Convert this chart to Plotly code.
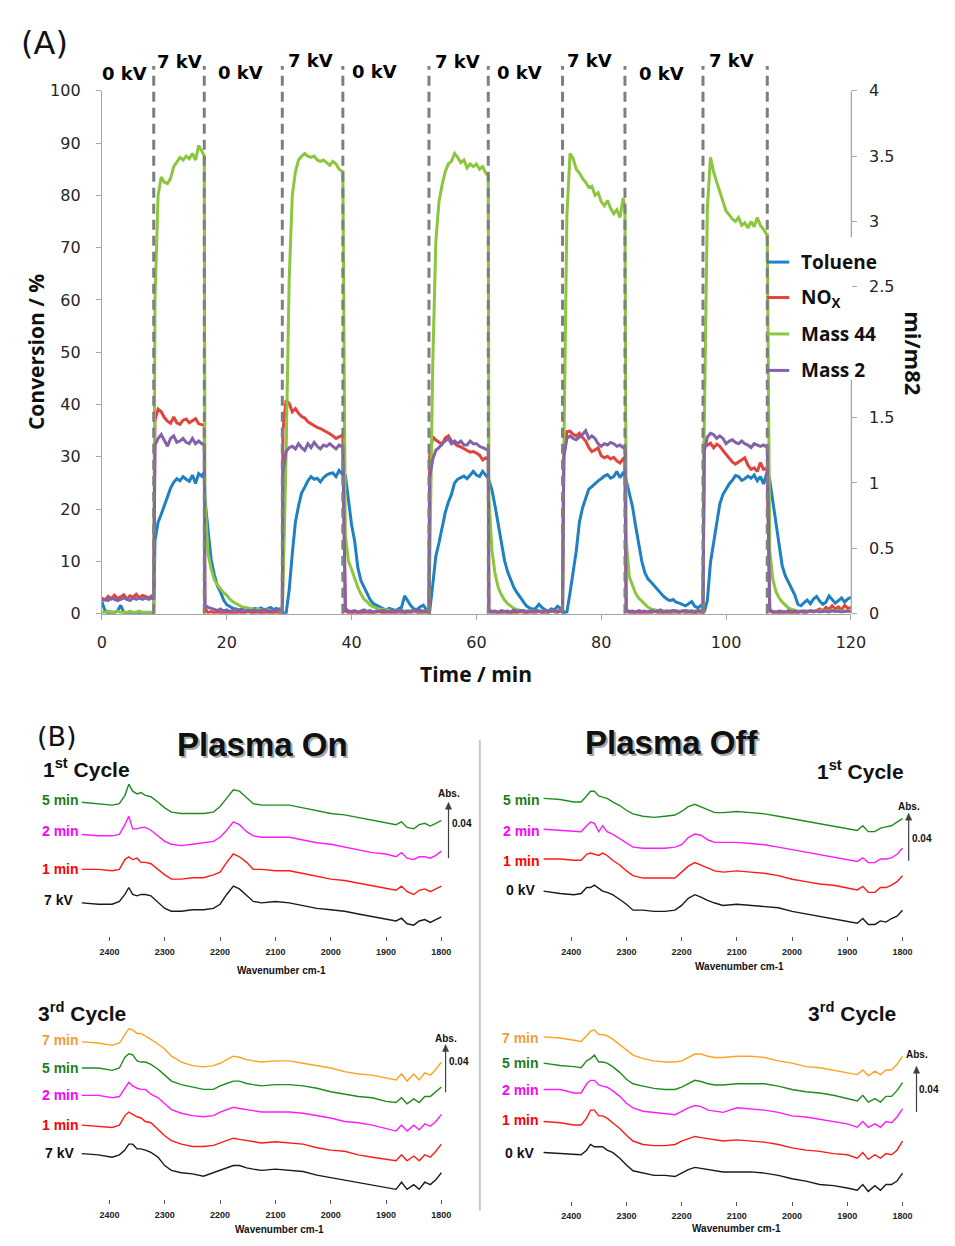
import plotly.graph_objects as go

FIG_W, FIG_H = 955, 1246


def fx(p):
    return p / FIG_W


def fy(p):
    return 1 - p / FIG_H


# ---------------------------------------------------------------- Panel A data
# sampling grid: every 0.5 min plus the instants where the voltage was switched
half_minute_grid = [i * 0.5 for i in range(241)]
switch_times = [8.3, 16.4, 28.9, 38.6, 52.4, 61.9, 73.8, 83.8, 96.3, 106.6]
voltage_labels = ["0 kV", "7 kV", "0 kV", "7 kV", "0 kV", "7 kV", "0 kV", "7 kV", "0 kV", "7 kV"]
time_min = sorted(half_minute_grid + switch_times)

x_ticks = [0, 20, 40, 60, 80, 100, 120]
left_ticks = [0, 10, 20, 30, 40, 50, 60, 70, 80, 90, 100]
right_ticks = [0, 0.5, 1, 1.5, 2.5, 3, 3.5, 4]
right_tick_text = ["0", "0.5", "1", "1.5", "2.5", "3", "3.5", "4"]

toluene = [
    2.2, 0.6, 0.1, 0.3, 0.2, 0.5, 1.6, 0.3, 0.1, 0.2, 0.0, 0.3, 0.1, 0.2, 0.0, 0.1, 0.2,
    0.2,
    14.0, 17.5, 19.0, 20.8, 22.2, 24.0, 25.1, 25.8, 25.4, 26.2, 25.7, 25.3, 26.5, 24.9, 26.8, 26.3,
    27.1,
    22.0, 16.0, 10.3, 7.5, 5.3, 4.1, 2.6, 1.7, 1.3, 1.0, 0.9, 0.7, 0.9, 1.1, 0.8, 0.7, 1.0, 0.8, 1.1, 0.7,
    0.9, 1.2, 0.8, 1.0, 0.6,
    0.3,
    0.2, 0.0, 4.5, 11.5, 17.5, 20.6, 23.1, 24.2, 25.4, 26.2, 25.7, 25.9, 25.2, 26.0, 26.5, 26.8, 26.9, 26.2,
    27.4, 26.7,
    27.0,
    26.5, 22.0, 17.0, 13.8, 8.8, 6.3, 5.0, 3.8, 2.6, 1.9, 1.6, 1.2, 1.0, 0.7, 1.0, 0.8, 0.6, 0.9, 1.2, 3.4,
    2.4, 1.5, 0.9, 0.8, 1.3, 1.6, 0.7,
    0.5,
    0.3, 5.5, 11.0, 13.5, 16.5, 19.3, 21.3, 22.8, 25.0, 25.7, 26.0, 26.3, 25.8, 26.6, 27.2, 26.5, 26.2, 27.2,
    26.4,
    25.9,
    25.5, 23.6, 20.5, 17.1, 13.4, 10.2, 8.0, 6.3, 5.0, 4.0, 3.2, 2.3, 1.5, 1.1, 0.8, 1.0, 1.8, 1.2, 0.7, 0.5,
    0.9, 0.7, 1.4, 1.0,
    0.8,
    0.2, 0.3, 4.0, 7.8, 12.0, 17.5, 20.2, 22.0, 23.8, 24.3, 24.9, 25.4, 25.8, 26.3, 26.6, 25.9, 26.2, 27.2,
    26.0, 26.9,
    26.5,
    25.5, 23.0, 20.5, 16.8, 13.6, 10.0, 7.8, 6.6, 6.0, 5.3, 4.5, 3.9, 3.3, 2.8, 2.5, 2.7, 2.2, 2.0, 1.7, 1.5,
    1.9, 2.3, 1.4, 1.1, 1.6,
    1.2,
    0.3, 2.5, 9.8, 13.4, 17.8, 21.0, 22.8, 23.9, 24.8, 25.5, 26.4, 26.2, 25.5, 25.8, 26.3, 25.9, 26.5, 25.4,
    26.2, 24.8, 27.0,
    27.2,
    25.5, 21.5, 17.0, 13.4, 9.1, 7.2, 6.0, 4.8, 3.6, 1.8, 1.5, 2.1, 2.6, 1.9, 2.8, 3.3, 2.4, 1.8, 2.2, 3.4,
    2.6, 2.0, 2.5, 3.0, 2.2, 2.8, 3.1,
]

nox = [
    3.0, 2.6, 3.3, 2.8, 3.5, 2.9, 3.2, 3.6, 2.8, 3.4, 3.1, 3.7, 3.0, 3.5, 3.3, 3.0, 3.4,
    3.2,
    37.0, 39.1, 38.6, 37.5, 36.8, 36.4, 37.6, 36.5, 36.2, 37.0, 37.2, 36.5, 36.9, 37.3, 36.3, 36.2,
    36.0,
    1.0, 0.2, 0.4, 0.1, 0.3, 0.2, 0.1, 0.3, 0.2, 0.0, 0.2, 0.3, 0.1, 0.2, 0.4, 0.1, 0.2, 0.3, 0.1, 0.2,
    0.3, 0.1, 0.2, 0.3, 0.2,
    0.2,
    35.0, 40.8, 40.2, 38.6, 39.2, 38.3, 37.7, 37.4, 36.7, 36.3, 35.9, 35.6, 35.4, 35.1, 34.7, 34.4, 34.0, 33.5,
    33.8, 34.1,
    34.0,
    0.5, 0.2, 0.1, 0.3, 0.2, 0.0, 0.2, 0.3, 0.1, 0.2, 0.2, 0.4, 0.1, 0.2, 0.3, 0.1, 0.2, 0.3, 0.2, 0.1,
    0.3, 0.2, 0.4, 0.2, 0.1, 0.3, 0.2,
    0.2,
    30.0, 33.8, 33.2, 32.8, 32.4, 33.6, 34.0, 33.0, 32.5, 32.1, 31.9, 31.5, 31.2, 30.9, 31.0, 30.7, 30.3, 29.4,
    29.8,
    29.5,
    0.5, 0.2, 0.3, 0.1, 0.2, 0.3, 0.2, 0.1, 0.3, 0.2, 0.4, 0.2, 0.1, 0.3, 0.2, 0.2, 0.4, 0.3, 0.1, 0.2,
    0.6, 0.3, 0.2, 0.8,
    0.3,
    30.0, 34.8, 34.9, 34.3, 34.0, 34.5, 33.7, 33.0, 31.8, 31.0, 31.3, 31.7, 30.2, 29.8, 30.1, 29.6, 29.9, 29.2,
    28.8, 29.6,
    29.0,
    0.5, 0.2, 0.1, 0.3, 0.2, 0.2, 0.1, 0.3, 0.2, 0.4, 0.2, 0.1, 0.3, 0.2, 0.1, 0.3, 0.2, 0.2, 0.4, 0.1,
    0.3, 0.2, 0.1, 0.3, 0.2,
    0.2,
    33.0, 32.2, 32.6, 31.7, 32.4, 32.0, 31.2, 30.5, 29.8, 29.0, 28.6, 29.0, 29.5, 29.8, 28.4, 27.6, 27.9, 27.2,
    28.9, 27.6, 27.8,
    27.5,
    0.5, 0.2, 0.3, 0.1, 0.2, 0.3, 0.2, 0.1, 0.3, 0.2, 0.4, 0.2, 0.3, 0.5, 0.3, 0.6, 0.9, 0.5, 1.2, 0.8,
    1.5, 0.9, 1.3, 0.7, 1.6, 1.0, 1.2,
]

# mass-spec signals, in mi/m82 (right axis)
mass44 = [
    0.01, 0.01, 0.02, 0.01, 0.01, 0.02, 0.01, 0.01, 0.01, 0.02, 0.01, 0.01, 0.02, 0.01, 0.01, 0.01, 0.01,
    0.01,
    2.40, 3.20, 3.34, 3.30, 3.29, 3.33, 3.42, 3.46, 3.49, 3.47, 3.50, 3.48, 3.52, 3.47, 3.58, 3.54,
    3.50,
    0.88, 0.46, 0.34, 0.26, 0.22, 0.19, 0.16, 0.14, 0.11, 0.09, 0.08, 0.064, 0.05, 0.045, 0.04, 0.036, 0.034,
    0.032, 0.03, 0.028, 0.026, 0.024, 0.022, 0.02, 0.02,
    0.02,
    0.15, 1.20, 2.55, 3.20, 3.38, 3.47, 3.50, 3.52, 3.50, 3.49, 3.50, 3.47, 3.46, 3.47, 3.45, 3.43, 3.46, 3.44,
    3.40, 3.38,
    3.38,
    0.60, 0.40, 0.34, 0.27, 0.20, 0.15, 0.11, 0.09, 0.064, 0.052, 0.04, 0.036, 0.032, 0.028, 0.024, 0.022,
    0.02, 0.02, 0.02, 0.02, 0.02, 0.02, 0.02, 0.02, 0.02, 0.02, 0.02,
    0.02,
    0.30, 1.90, 2.85, 3.15, 3.28, 3.38, 3.44, 3.46, 3.52, 3.49, 3.45, 3.47, 3.41, 3.44, 3.42, 3.44, 3.40, 3.42,
    3.37,
    3.35,
    0.88, 0.48, 0.30, 0.20, 0.144, 0.104, 0.076, 0.056, 0.04, 0.032, 0.024, 0.02, 0.02, 0.02, 0.02, 0.02,
    0.02, 0.02, 0.02, 0.02, 0.02, 0.02, 0.02, 0.02,
    0.02,
    1.20, 3.05, 3.52, 3.48, 3.40, 3.37, 3.33, 3.30, 3.26, 3.27, 3.20, 3.22, 3.15, 3.12, 3.16, 3.10, 3.06, 3.09,
    3.03, 3.18,
    3.10,
    0.56, 0.28, 0.21, 0.156, 0.12, 0.096, 0.068, 0.048, 0.036, 0.028, 0.024, 0.02, 0.02, 0.02, 0.02, 0.02,
    0.02, 0.02, 0.02, 0.02, 0.02, 0.02, 0.02, 0.02, 0.02,
    0.02,
    1.40, 3.10, 3.49, 3.38, 3.30, 3.22, 3.16, 3.08, 3.05, 3.02, 3.00, 3.03, 2.97, 2.99, 2.95, 3.00, 2.96, 3.03,
    2.97, 2.94, 2.90,
    2.90,
    0.48, 0.26, 0.168, 0.12, 0.088, 0.064, 0.044, 0.032, 0.024, 0.02, 0.02, 0.02, 0.02, 0.02, 0.02, 0.02,
    0.02, 0.02, 0.02, 0.02, 0.02, 0.02, 0.02, 0.02, 0.02, 0.02, 0.02,
]

mass2 = [
    0.10, 0.11, 0.10, 0.12, 0.11, 0.10, 0.11, 0.12, 0.11, 0.10, 0.12, 0.11, 0.12, 0.11, 0.12, 0.11, 0.12,
    0.11,
    1.29, 1.34, 1.37, 1.32, 1.28, 1.34, 1.36, 1.31, 1.32, 1.34, 1.31, 1.30, 1.34, 1.30, 1.32, 1.30,
    1.29,
    0.064, 0.048, 0.04, 0.032, 0.024, 0.036, 0.02, 0.028, 0.016, 0.024, 0.032, 0.02, 0.028, 0.016, 0.024,
    0.02, 0.028, 0.016, 0.024, 0.032, 0.02, 0.016, 0.028, 0.02, 0.036,
    0.02,
    1.08, 1.24, 1.27, 1.28, 1.26, 1.30, 1.27, 1.25, 1.30, 1.27, 1.31, 1.28, 1.26, 1.29, 1.28, 1.30, 1.28, 1.26,
    1.29, 1.27,
    1.27,
    0.04, 0.02, 0.016, 0.024, 0.012, 0.02, 0.028, 0.016, 0.024, 0.012, 0.02, 0.016, 0.024, 0.02, 0.012,
    0.028, 0.016, 0.02, 0.024, 0.012, 0.02, 0.016, 0.028, 0.02, 0.024, 0.016, 0.02,
    0.02,
    1.04, 1.18, 1.25, 1.27, 1.30, 1.32, 1.34, 1.30, 1.32, 1.30, 1.32, 1.29, 1.29, 1.32, 1.30, 1.30, 1.28, 1.27,
    1.26,
    1.25,
    0.03, 0.016, 0.02, 0.012, 0.024, 0.016, 0.02, 0.012, 0.028, 0.016, 0.02, 0.024, 0.012, 0.02, 0.016,
    0.024, 0.02, 0.012, 0.028, 0.016, 0.02, 0.024, 0.016, 0.02,
    0.02,
    1.20, 1.34, 1.36, 1.34, 1.33, 1.35, 1.37, 1.40, 1.34, 1.36, 1.34, 1.30, 1.28, 1.30, 1.29, 1.31, 1.30, 1.28,
    1.29, 1.27,
    1.28,
    0.03, 0.016, 0.02, 0.012, 0.024, 0.016, 0.02, 0.012, 0.024, 0.016, 0.02, 0.028, 0.012, 0.02, 0.016,
    0.024, 0.02, 0.012, 0.02, 0.024, 0.016, 0.02, 0.012, 0.024, 0.02,
    0.02,
    1.24, 1.35, 1.38, 1.37, 1.34, 1.36, 1.34, 1.30, 1.32, 1.33, 1.31, 1.30, 1.32, 1.30, 1.29, 1.27, 1.30, 1.29,
    1.28, 1.29, 1.27,
    1.27,
    0.03, 0.016, 0.012, 0.02, 0.016, 0.012, 0.024, 0.016, 0.02, 0.012, 0.016, 0.02, 0.012, 0.024, 0.016,
    0.02, 0.012, 0.016, 0.02, 0.012, 0.024, 0.016, 0.02, 0.012, 0.016, 0.02, 0.016,
]

# ---------------------------------------------------------------- Panel B data
wavenumber = [2450, 2420, 2395, 2382, 2372, 2365, 2358, 2350, 2343, 2335, 2325, 2312, 2300, 2288, 2270,
              2250, 2230, 2212, 2200, 2188, 2176, 2165, 2152, 2140, 2125, 2100, 2075, 2050, 2025, 2000,
              1975, 1950, 1925, 1900, 1882, 1872, 1862, 1850, 1840, 1830, 1820, 1810, 1800]
wn_ticks = [2400, 2300, 2200, 2100, 2000, 1900, 1800]

# absorbance (mAbs, stacked as displayed)
on1_7kV = [24, 23, 23, 25, 30, 35, 30, 29, 30, 30, 29, 24, 20, 18, 18, 19, 19, 20, 23, 30, 36, 34, 29, 25, 24,
           25, 24, 22, 20, 19, 18, 16, 14, 12, 11, 13, 9, 8, 11, 12, 10, 12, 14]
on1_1min = [48, 48, 47, 48, 55, 57, 55, 56, 53, 53, 52, 48, 44, 41, 41, 42, 42, 44, 46, 53, 59, 57, 53, 48, 48,
            47, 47, 45, 43, 41, 40, 38, 36, 34, 33, 36, 32, 30, 33, 34, 32, 34, 36]
on1_2min = [73, 72, 72, 73, 80, 86, 77, 77, 78, 78, 76, 72, 68, 66, 65, 66, 67, 68, 71, 76, 82, 80, 75, 72, 71,
            71, 71, 69, 67, 66, 64, 62, 60, 59, 57, 60, 56, 55, 57, 57, 56, 58, 61]
on1_5min = [96, 95, 94, 95, 101, 109, 104, 102, 103, 101, 100, 96, 92, 89, 88, 88, 88, 89, 93, 99, 105, 104, 99,
            95, 94, 94, 94, 92, 90, 88, 87, 85, 83, 81, 80, 82, 78, 77, 80, 81, 79, 81, 83]

off1_0kV = [38, 36, 35, 36, 41, 41, 43, 40, 38, 37, 35, 31, 27, 22, 22, 21, 21, 22, 26, 32, 35, 33, 30, 28, 26,
            27, 26, 25, 24, 21, 19, 17, 15, 13, 11, 15, 10, 10, 13, 12, 15, 17, 22]
off1_1min = [65, 65, 64, 64, 69, 70, 69, 68, 70, 68, 64, 60, 55, 51, 49, 49, 49, 49, 54, 59, 62, 60, 57, 55, 54,
             55, 54, 53, 51, 48, 46, 44, 43, 41, 39, 42, 37, 37, 41, 41, 43, 46, 51]
off1_2min = [90, 89, 88, 88, 93, 96, 95, 88, 93, 88, 86, 82, 79, 75, 74, 74, 74, 75, 77, 83, 86, 85, 81, 79, 79,
             79, 78, 77, 75, 73, 71, 69, 67, 65, 63, 66, 62, 62, 65, 65, 66, 69, 74]
off1_5min = [116, 115, 113, 113, 118, 122, 122, 118, 117, 116, 113, 110, 106, 103, 101, 100, 101, 102, 105, 109,
             111, 109, 106, 104, 104, 105, 104, 103, 101, 99, 97, 95, 93, 91, 89, 93, 88, 88, 91, 92, 93, 96, 99]

on3_7kV = [38, 37, 35, 37, 41, 46, 46, 42, 42, 41, 39, 35, 28, 24, 22, 21, 19, 22, 24, 26, 28, 28, 26, 25, 24,
           25, 24, 23, 20, 18, 16, 14, 12, 10, 8, 14, 8, 12, 8, 14, 12, 16, 22]
on3_1min = [62, 61, 60, 62, 70, 73, 71, 69, 68, 65, 64, 58, 53, 49, 46, 44, 44, 45, 47, 49, 51, 50, 49, 48, 47,
            48, 47, 46, 43, 41, 40, 37, 35, 33, 32, 37, 32, 36, 32, 37, 35, 40, 46]
on3_2min = [87, 87, 85, 86, 93, 98, 95, 93, 92, 92, 88, 85, 80, 75, 72, 70, 69, 70, 73, 75, 77, 76, 75, 74, 73,
            73, 73, 72, 70, 68, 65, 64, 62, 59, 57, 62, 57, 62, 58, 63, 61, 65, 71]
on3_5min = [110, 110, 108, 110, 119, 122, 121, 116, 115, 115, 113, 109, 104, 99, 96, 94, 92, 92, 95, 97, 99, 99,
            97, 96, 95, 96, 96, 95, 93, 90, 88, 86, 85, 82, 81, 85, 80, 84, 81, 86, 86, 90, 94]
on3_7min = [132, 131, 129, 131, 138, 143, 142, 139, 139, 137, 134, 130, 126, 120, 115, 112, 111, 112, 114, 117,
            120, 119, 117, 116, 115, 116, 116, 114, 112, 110, 107, 105, 104, 102, 100, 105, 99, 105, 100, 106,
            104, 109, 115]

off3_0kV = [42, 41, 40, 40, 44, 49, 47, 47, 47, 44, 42, 37, 31, 26, 24, 22, 22, 21, 24, 27, 29, 28, 27, 26, 25,
            25, 25, 24, 22, 19, 17, 14, 13, 11, 9, 14, 8, 13, 9, 14, 14, 17, 24]
off3_1min = [69, 68, 66, 66, 72, 79, 79, 74, 74, 72, 68, 63, 57, 52, 49, 48, 48, 49, 52, 54, 56, 55, 54, 53, 52,
             53, 52, 51, 49, 46, 44, 43, 41, 40, 37, 42, 36, 40, 37, 41, 40, 44, 52]
off3_2min = [97, 97, 94, 94, 102, 105, 105, 101, 100, 99, 96, 91, 85, 81, 78, 77, 76, 75, 78, 81, 83, 82, 79, 78,
             77, 81, 80, 79, 77, 74, 73, 71, 69, 67, 64, 69, 64, 67, 64, 69, 68, 73, 80]
off3_5min = [120, 118, 117, 116, 122, 124, 127, 121, 121, 120, 117, 112, 106, 102, 100, 98, 97, 97, 99, 102, 105,
             104, 102, 101, 101, 102, 102, 102, 100, 97, 95, 94, 92, 89, 87, 92, 86, 89, 86, 91, 91, 96, 103]
off3_7min = [143, 142, 140, 139, 144, 148, 149, 145, 145, 144, 141, 136, 132, 127, 124, 122, 121, 121, 122, 125,
             128, 128, 126, 125, 125, 126, 126, 125, 122, 120, 117, 116, 114, 112, 110, 114, 109, 113, 110, 114,
             114, 119, 126]

scale_bar_abs = 0.04  # Abs

for arr in (toluene, nox, mass44, mass2):
    assert len(arr) == len(time_min), len(arr)

# ---------------------------------------------------------------- styles
C_TOL, C_NOX, C_M44, C_M2 = "#1f80c2", "#e2443c", "#8cc63e", "#8461a8"
C_BLACK, C_RED, C_MAG, C_GRN, C_ORG = "#1a1a1a", "#ff1a1a", "#ff1aff", "#1f8c1f", "#ffa21f"
L_BLACK, L_RED, L_MAG, L_GRN, L_ORG = "#111111", "#ff0000", "#ff00ff", "#1d7d1d", "#f59a3c"
AXC = "#a6a6a6"
FA = "DejaVu Sans"
FT = "Open Sans"
FB = "Liberation Sans"

fig = go.Figure()

# ---- panel A traces
fig.add_trace(go.Scatter(x=time_min, y=toluene, mode="lines", name="Toluene",
                         line=dict(color=C_TOL, width=3), xaxis="x", yaxis="y"))
fig.add_trace(go.Scatter(x=time_min, y=nox, mode="lines", name="NOx",
                         line=dict(color=C_NOX, width=3), xaxis="x", yaxis="y"))
fig.add_trace(go.Scatter(x=time_min, y=mass44, mode="lines", name="Mass 44",
                         line=dict(color=C_M44, width=3), xaxis="x", yaxis="y2"))
fig.add_trace(go.Scatter(x=time_min, y=mass2, mode="lines", name="Mass 2",
                         line=dict(color=C_M2, width=3), xaxis="x", yaxis="y2"))

# ---- panel B traces
panels = [
    ("3", [(on1_7kV, C_BLACK), (on1_1min, C_RED), (on1_2min, C_MAG), (on1_5min, C_GRN)]),
    ("4", [(off1_0kV, C_BLACK), (off1_1min, C_RED), (off1_2min, C_MAG), (off1_5min, C_GRN)]),
    ("5", [(on3_7kV, C_BLACK), (on3_1min, C_RED), (on3_2min, C_MAG), (on3_5min, C_GRN), (on3_7min, C_ORG)]),
    ("6", [(off3_0kV, C_BLACK), (off3_1min, C_RED), (off3_2min, C_MAG), (off3_5min, C_GRN), (off3_7min, C_ORG)]),
]
for k, curves in panels:
    for vals, col in curves:
        fig.add_trace(go.Scatter(x=wavenumber, y=vals, mode="lines", showlegend=False,
                                 line=dict(color=col, width=1.4), xaxis="x" + k, yaxis="y" + k))

# ---------------------------------------------------------------- axes
tick_font_a = dict(family=FA, size=16, color="#262626")
layout = dict(
    width=FIG_W, height=FIG_H, margin=dict(l=0, r=0, t=0, b=0),
    paper_bgcolor="white", plot_bgcolor="rgba(0,0,0,0)", showlegend=False,
    xaxis=dict(domain=[fx(99), fx(864)], range=[0, 120], anchor="y", tickvals=x_ticks,
               showline=True, linecolor=AXC, linewidth=1.3, ticks="outside", ticklen=5,
               tickcolor=AXC, tickfont=tick_font_a, showgrid=False, zeroline=False,
               ticklabelstandoff=9),
    yaxis=dict(domain=[fy(614), fy(83)], range=[0, 100], anchor="x", tickvals=left_ticks,
               showline=True, linecolor=AXC, linewidth=1.3, ticks="outside", ticklen=5,
               tickcolor=AXC, tickfont=tick_font_a, showgrid=False, zeroline=False,
               ticklabelstandoff=12),
    yaxis2=dict(overlaying="y", side="right", anchor="x", range=[0, 4], tickvals=right_ticks,
                ticktext=right_tick_text, showline=False, ticks="outside", ticklen=5,
                tickcolor=AXC, tickfont=tick_font_a, showgrid=False, zeroline=False,
                ticklabelstandoff=9),
)

spec_geom = {
    "3": dict(xd=[fx(67.1), fx(457.0)], yd=[fy(941.7), fy(757.4)], yr=[0, 130]),
    "4": dict(xd=[fx(538.8), fx(928.0)], yd=[fy(941.7), fy(772.6)], yr=[0, 140]),
    "5": dict(xd=[fx(67.1), fx(457.0)], yd=[fy(1208.3), fy(1015.0)], yr=[0, 160]),
    "6": dict(xd=[fx(538.8), fx(928.0)], yd=[fy(1210.0), fy(1024.0)], yr=[0, 160]),
}
for k, g in spec_geom.items():
    layout["xaxis" + k] = dict(domain=g["xd"], range=[2470, 1780], anchor="y" + k,
                               tickvals=wn_ticks, ticktext=["<b>%d</b>" % t for t in wn_ticks],
                               tickfont=dict(family=FB, size=9, color="#222"),
                               showline=False, ticks="outside", ticklen=4, tickwidth=1,
                               tickcolor="#555", showgrid=False, zeroline=False,
                               ticklabelstandoff=3)
    layout["yaxis" + k] = dict(domain=g["yd"], range=g["yr"], anchor="x" + k, visible=False)

fig.update_layout(**layout)

# ---------------------------------------------------------------- shapes
shapes = []
for t in switch_times:
    shapes.append(dict(type="line", xref="x", yref="paper", x0=t, x1=t, y0=fy(614), y1=fy(58),
                       line=dict(color="#7f7f7f", width=3, dash="10px,6px"), layer="above"))
# right axis line (interrupted behind the legend, as in the source)
for a, b in ((0, 1.79), (2.88, 4)):
    shapes.append(dict(type="line", xref="paper", yref="y2", x0=fx(864.5), x1=fx(864.5), y0=a, y1=b,
                       line=dict(color=AXC, width=1.3)))
# legend keys
legend_items = [("Toluene", C_TOL, 257), ("NO<sub>X</sub>", C_NOX, 293),
                ("Mass 44", C_M44, 330), ("Mass 2", C_M2, 367)]
for _, col, yy in legend_items:
    shapes.append(dict(type="line", xref="paper", yref="paper", x0=fx(778), x1=fx(801), y0=fy(yy), y1=fy(yy),
                       line=dict(color=col, width=3)))
# separator between plasma-on and plasma-off columns
shapes.append(dict(type="line", xref="paper", yref="paper", x0=fx(485), x1=fx(485), y0=fy(742), y1=fy(1220),
                   line=dict(color="#c8c8c8", width=2)))

# scale bars: 0.04 Abs (= 40 mAbs) measured on each panel's own y scale
bars = [("3", 453, 56, 797, 467, 827), ("4", 923, 63.5, 810, 937, 842),
        ("5", 450, 89.7, 1045, 464, 1069), ("6", 931, 77.3, 1062, 944, 1097)]
for k, bx, base, abs_y, lx, ly in bars:
    g = spec_geom[k]
    per_px = (g["yr"][1] - g["yr"][0]) / ((g["yd"][1] - g["yd"][0]) * FIG_H)
    top = base + scale_bar_abs * 1000
    head = 7 * per_px
    hw = 3.2 / FIG_W
    shapes.append(dict(type="line", xref="paper", yref="y" + k, x0=fx(bx), x1=fx(bx), y0=base, y1=top - head * 0.6,
                       line=dict(color="#404040", width=1.2)))
    shapes.append(dict(type="path", xref="paper", yref="y" + k,
                       path="M %f,%f L %f,%f L %f,%f Z" % (fx(bx) - hw, top - head, fx(bx), top, fx(bx) + hw, top - head),
                       fillcolor="#404040", line=dict(color="#404040", width=0.5)))
fig.update_layout(shapes=shapes)

# ---------------------------------------------------------------- annotations
anns = []


def text(t, x, y, size, color="#000", family=FB, xanchor="center", yanchor="middle", angle=0, **kw):
    d = dict(text=t, x=fx(x), y=fy(y), xref="paper", yref="paper", showarrow=False,
             font=dict(family=family, size=size, color=color), xanchor=xanchor, yanchor=yanchor,
             textangle=angle)
    d.update(kw)
    anns.append(d)


# panel A
text("(A)", 40, 35, 32, "#111", FA)
label_px = [(122, 65), (178, 53), (241, 64), (312, 52), (377, 63), (462, 53), (526, 64), (597, 52),
            (671, 65), (742, 52)]
for lab, (x, y) in zip(voltage_labels, label_px):
    text("<b>%s</b>" % lab, x, y, 18, "#000", FA)
text("<b>Conversion / %</b>", 31, 348, 21, "#111", FT, angle=-90)
text("<b>Time / min</b>", 481, 675, 21, "#111", FT)
text("<b>mi/m82</b>", 929, 349, 22, "#111", FT, angle=90)
for name, _, yy in legend_items:
    text("<b>%s</b>" % name, 811, yy, 19, "#111", FT, xanchor="left")

# panel B
text("(B)", 53, 739, 27, "#111", FA)
for t, x, y in (("Plasma On", 263, 747), ("Plasma Off", 681, 745)):
    text("<b>%s</b>" % t, x, y, 33, "#a8a8a8", FB, xshift=2, yshift=-2)
    text("<b>%s</b>" % t, x, y, 33, "#111", FB)
for t, x, y in (("1<sup>st</sup> Cycle", 37, 771), ("1<sup>st</sup> Cycle", 827, 773),
                ("3<sup>rd</sup> Cycle", 32, 1019), ("3<sup>rd</sup> Cycle", 818, 1019)):
    text("<b>%s</b>" % t, x, y, 21, "#111", FB, xanchor="left")

curve_labels = [
    ("5 min", 78, 803, L_GRN), ("2 min", 78, 835, L_MAG), ("1 min", 78, 873, L_RED), ("7 kV", 72, 905, L_BLACK),
    ("5 min", 548, 803, L_GRN), ("2 min", 548, 835, L_MAG), ("1 min", 548, 865, L_RED), ("0 kV", 543, 895, L_BLACK),
    ("7 min", 78, 1047, L_ORG), ("5 min", 78, 1075, L_GRN), ("2 min", 78, 1103, L_MAG), ("1 min", 78, 1133, L_RED),
    ("7 kV", 73, 1162, L_BLACK),
    ("7 min", 547, 1045, L_ORG), ("5 min", 547, 1070, L_GRN), ("2 min", 547, 1098, L_MAG), ("1 min", 547, 1128, L_RED),
    ("0 kV", 542, 1162, L_BLACK),
]
for t, x, y, c in curve_labels:
    text("<b>%s</b>" % t, x, y, 14, c, FB, xanchor="right")

for x, y in ((282, 976), (750, 972), (280, 1239), (747, 1238)):
    text("<b>Wavenumber cm-1</b>", x, y, 10, "#111", FB)

for k, bx, base, abs_y, lx, ly in bars:
    text("<b>Abs.</b>", bx, abs_y, 10, "#111", FB)
    text("<b>%s</b>" % scale_bar_abs, lx, ly, 10, "#111", FB)

fig.update_layout(annotations=anns)

fig.write_html("out.html")
